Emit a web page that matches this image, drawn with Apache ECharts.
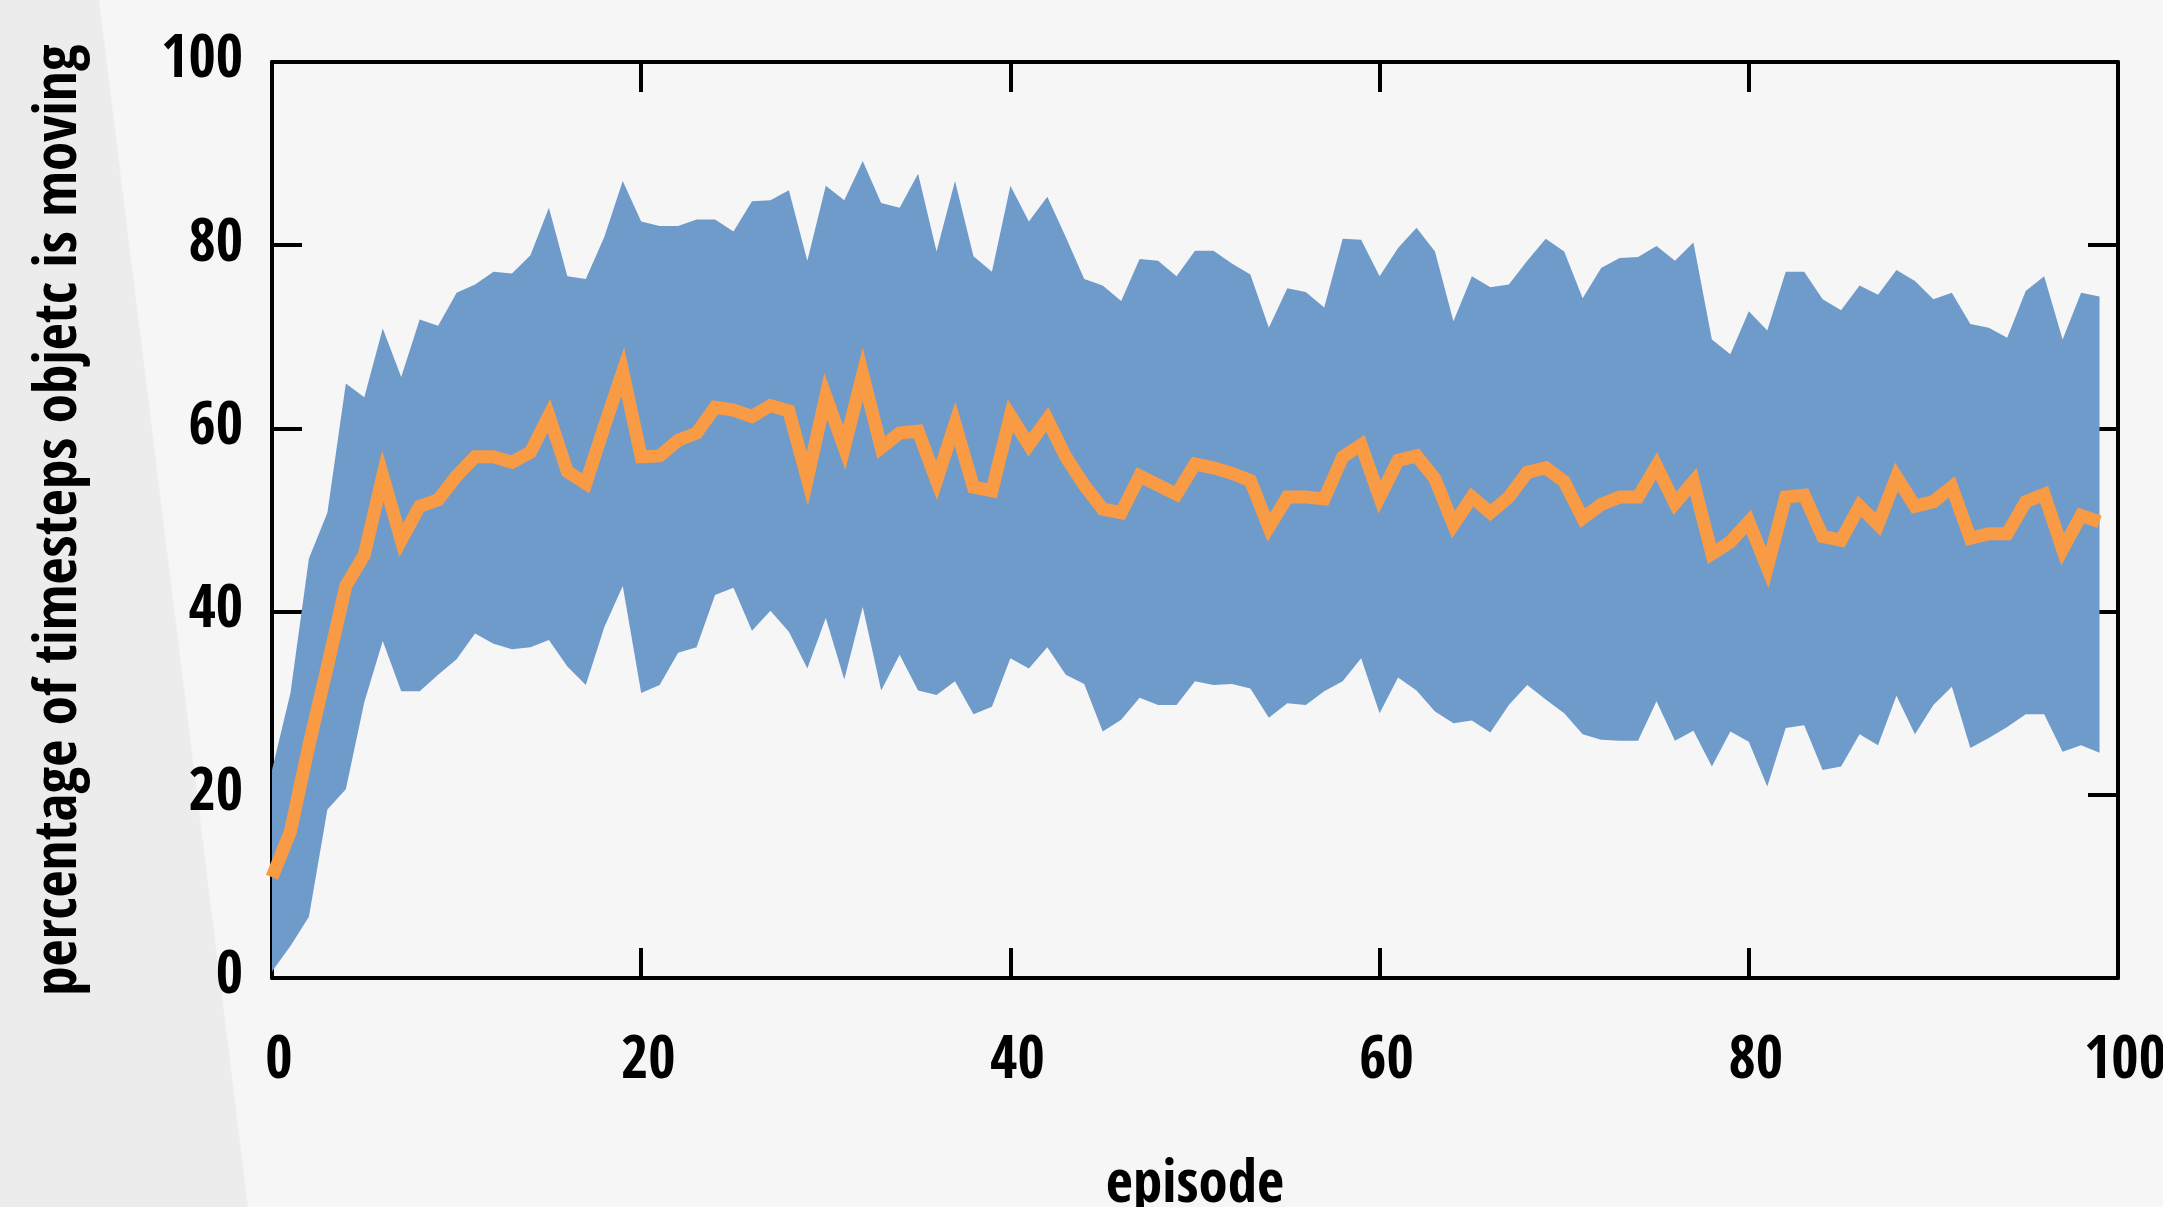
<!DOCTYPE html>
<html>
<head>
<meta charset="utf-8">
<script src="https://cdn.jsdelivr.net/npm/echarts@6/dist/echarts.min.js"></script>
<style>
  html, body { margin: 0; padding: 0; background: #f6f6f6; }
  #chart { width: 2163px; height: 1207px; }
</style>
</head>
<body>
<div id="chart"></div>
<script>
// x categories 0..100, data for episodes 0..99
var categories = [];
for (var i = 0; i <= 100; i++) categories.push(String(i));

// upper edge of the band
var upper = [22.7, 31.1, 45.8, 50.8, 64.9, 63.4, 70.9, 65.6, 71.9, 71.2,
	74.8, 75.7, 77.1, 76.9, 78.9, 84.1, 76.6, 76.3, 80.9, 87.0,
	82.6, 82.1, 82.1, 82.8, 82.8, 81.5, 84.8, 84.9, 86.0, 78.3,
	86.5, 84.9, 89.2, 84.6, 84.1, 87.8, 79.3, 87.0, 78.8, 77.1,
	86.5, 82.6, 85.3, 80.9, 76.3, 75.6, 73.9, 78.5, 78.3, 76.6,
	79.4, 79.4, 78.0, 76.8, 71.0, 75.3, 74.9, 73.2, 80.7, 80.6,
	76.6, 79.7, 81.9, 79.3, 71.7, 76.6, 75.4, 75.7, 78.3, 80.7,
	79.3, 74.2, 77.5, 78.6, 78.7, 79.9, 78.3, 80.3, 69.7, 68.1,
	72.8, 70.7, 77.1, 77.1, 74.1, 72.9, 75.6, 74.6, 77.3, 76.1,
	74.1, 74.8, 71.4, 71.0, 69.9, 75.0, 76.6, 69.7, 74.8, 74.4];

// lower edge of the band
var lower = [0.7, 3.5, 6.7, 18.4, 20.6, 30.1, 36.8, 31.3, 31.3, 33.1,
	34.8, 37.6, 36.5, 35.9, 36.1, 36.9, 34.0, 32.0, 38.3, 42.8,
	31.1, 32.0, 35.5, 36.1, 41.8, 42.6, 37.9, 40.1, 37.8, 33.8,
	39.3, 32.6, 40.5, 31.4, 35.3, 31.4, 30.9, 32.4, 28.8, 29.6,
	34.9, 33.8, 36.1, 33.1, 32.1, 26.9, 28.2, 30.6, 29.8, 29.8,
	32.4, 32.0, 32.1, 31.6, 28.4, 30.0, 29.8, 31.3, 32.4, 34.9,
	28.9, 32.8, 31.4, 29.1, 27.8, 28.1, 26.8, 29.8, 32.0, 30.4,
	28.9, 26.6, 26.0, 25.9, 25.9, 30.2, 25.9, 27.0, 23.1, 26.9,
	25.8, 20.9, 27.3, 27.6, 22.7, 23.1, 26.6, 25.4, 30.8, 26.6,
	29.8, 31.8, 25.1, 26.2, 27.4, 28.8, 28.8, 24.7, 25.4, 24.6];

// mean line
var mean = [11.0, 16.0, 25.4, 34.0, 42.8, 46.2, 54.8, 47.8, 51.5, 52.2,
	54.8, 56.9, 56.9, 56.3, 57.4, 61.4, 55.3, 54.0, 60.2, 66.2,
	56.9, 57.0, 58.7, 59.5, 62.3, 62.0, 61.3, 62.5, 61.9, 54.5,
	63.5, 57.9, 65.9, 57.9, 59.5, 59.7, 54.3, 60.5, 53.6, 53.2,
	61.4, 58.2, 61.0, 56.9, 53.8, 51.2, 50.8, 54.8, 53.8, 52.8,
	56.1, 55.7, 55.1, 54.3, 49.2, 52.5, 52.5, 52.3, 56.9, 58.2,
	52.5, 56.5, 57.0, 54.5, 49.5, 52.5, 50.8, 52.5, 55.2, 55.7,
	54.2, 50.2, 51.7, 52.5, 52.5, 55.9, 51.8, 54.2, 46.3, 47.6,
	49.8, 44.8, 52.5, 52.7, 48.2, 47.8, 51.5, 49.5, 54.7, 51.5,
	52.0, 53.6, 48.0, 48.5, 48.5, 52.0, 52.8, 46.8, 50.5, 49.8];

var yTicks = [0, 20, 40, 60, 80, 100];

var font = "'Open Sans Condensed', 'Roboto Condensed', sans-serif";

var span = upper.map(function(u, i) { return +(u - lower[i]).toFixed(1); });

var myChart = echarts.init(document.getElementById('chart'));

var axisLine = { show: true, onZero: false, lineStyle: { color: '#000', width: 4 } };
var every20 = function(index) { return index % 20 === 0; };
var xTick = { show: true, inside: true, length: 30, interval: every20, lineStyle: { color: '#000', width: 4 } };
var yTick = { show: true, inside: true, length: 30, lineStyle: { color: '#000', width: 4 } };

option = {
	backgroundColor: '#f6f6f6',
	animation: false,
	graphic: [{
		type: 'polygon',
		z: -10,
		shape: { points: [[0, 0], [99, 0], [248, 1207], [0, 1207]] },
		style: { fill: '#ececec' }
	}],
	grid: { left: 272, right: 45, top: 62, bottom: 229, containLabel: false, outerBoundsMode: 'none' },
	xAxis: [{
		type: 'category',
		data: categories,
		boundaryGap: false,
		name: 'episode',
		nameLocation: 'middle',
		nameGap: 179,
		nameTextStyle: { fontFamily: font, fontWeight: 'bold', fontSize: 59, color: '#000' },
		axisLine: axisLine,
		axisTick: xTick,
		splitLine: { show: false },
		axisLabel: { interval: every20, margin: 55, padding: [0, 0, 0, 14], fontFamily: font, fontWeight: 'bold', fontSize: 59, color: '#000' }
	}, {
		type: 'category',
		data: categories,
		boundaryGap: false,
		position: 'top',
		axisLine: axisLine,
		axisTick: xTick,
		splitLine: { show: false },
		axisLabel: { show: false }
	}],
	yAxis: [{
		type: 'value',
		min: yTicks[0],
		max: yTicks[yTicks.length - 1],
		interval: 20,
		name: 'percentage of timesteps objetc is moving',
		nameLocation: 'middle',
		nameGap: 182,
		nameTextStyle: { fontFamily: font, fontWeight: 'bold', fontSize: 59, color: '#000' },
		axisLine: axisLine,
		axisTick: yTick,
		splitLine: { show: false },
		axisLabel: { margin: 29, padding: [20, 0, 0, 0], fontFamily: font, fontWeight: 'bold', fontSize: 59, color: '#000' }
	}, {
		type: 'value',
		position: 'right',
		min: yTicks[0],
		max: yTicks[yTicks.length - 1],
		interval: 20,
		axisLine: axisLine,
		axisTick: yTick,
		splitLine: { show: false },
		axisLabel: { show: false }
	}],
	series: [{
		name: 'lower',
		type: 'line',
		stack: 'band',
		data: lower,
		symbol: 'none',
		lineStyle: { opacity: 0 },
		silent: true
	}, {
		name: 'band',
		type: 'line',
		stack: 'band',
		data: span,
		symbol: 'none',
		lineStyle: { opacity: 0 },
		areaStyle: { color: '#6f9bca', opacity: 1 },
		silent: true
	}, {
		name: 'mean',
		type: 'line',
		data: mean,
		symbol: 'none',
		lineStyle: { color: '#f99a45', width: 13, join: 'miter' },
		z: 5
	}]
};
myChart.setOption(option);
</script>
</body>
</html>
